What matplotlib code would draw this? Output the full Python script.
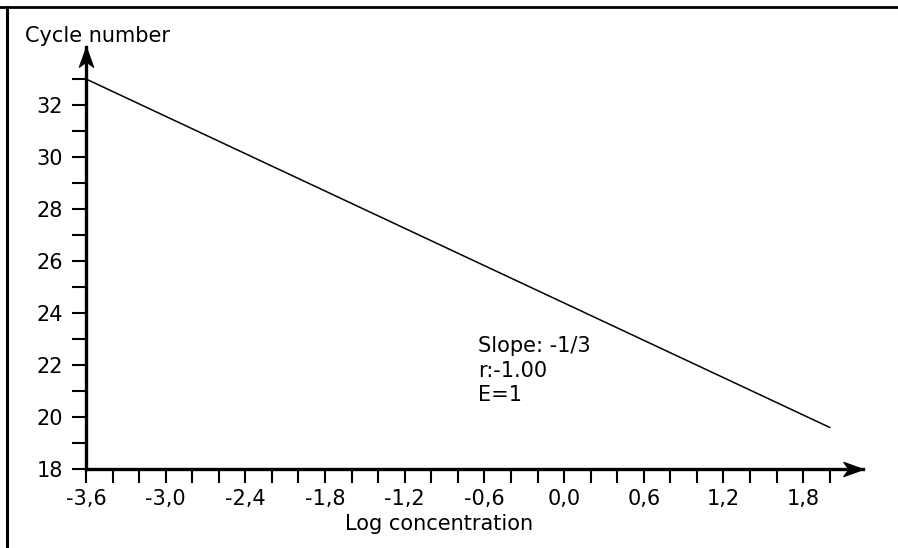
import numpy as np
import matplotlib
matplotlib.use("Agg")
import matplotlib.pyplot as plt
from matplotlib.lines import Line2D
from matplotlib.path import Path
from matplotlib.ticker import FixedLocator, FuncFormatter

# data
log_conc = [-3.6, 2.0]
cycles = [33.0, 19.6]
x_major = [-3.6, -3.0, -2.4, -1.8, -1.2, -0.6, 0.0, 0.6, 1.2, 1.8]
y_major = [18, 20, 22, 24, 26, 28, 30, 32]
stats = ["Slope: -1/3", "r:-1.00", "E=1"]

W, H = 898, 548
fig = plt.figure(figsize=(W / 100, H / 100), dpi=100)

# axes placed in pixels: x=-3.6 at px 86, y=18 at px 469
x0, y0 = 86, 469
px_x = 132.8   # pixels per x unit
px_y = 26.0    # pixels per y unit
xmax = -3.6 + (863 - x0) / px_x
ymax = 18 + (y0 - 47) / px_y
ax_w = 863 - x0
ax_h = y0 - 47
ax = fig.add_axes([x0 / W, 1 - y0 / H, ax_w / W, ax_h / H])
ax.set_xlim(-3.6, xmax)
ax.set_ylim(18, ymax)
ax.patch.set_visible(False)

ax.plot(log_conc, cycles, color="black", lw=1.1)

for s in ["top", "right"]:
    ax.spines[s].set_visible(False)
for s in ["left", "bottom"]:
    ax.spines[s].set_linewidth(2.4)

# stealth style arrow heads at the axis ends
verts = [(1.0, 0.0), (-0.8, 0.65), (-0.3, 0.0), (-0.8, -0.65), (1.0, 0.0)]
codes = [Path.MOVETO, Path.LINETO, Path.LINETO, Path.LINETO, Path.CLOSEPOLY]
arrow_r = Path(verts, codes)
arrow_u = Path([(y, x) for x, y in verts], codes)
msize = 15.5
half = msize * 100 / 72 / 2
ax.plot([1.0 - half / ax_w], [0], marker=arrow_r, markersize=msize, color="black",
        transform=ax.transAxes, clip_on=False)
ax.plot([0], [1.0 - half / ax_h], marker=arrow_u, markersize=msize, color="black",
        transform=ax.transAxes, clip_on=False)

x_minor = np.round(np.arange(-3.6, 2.01, 0.2), 1)
ax.xaxis.set_major_locator(FixedLocator(x_major))
ax.xaxis.set_minor_locator(FixedLocator([v for v in x_minor if v not in x_major]))
ax.yaxis.set_major_locator(FixedLocator(y_major))
ax.yaxis.set_minor_locator(FixedLocator([v for v in range(19, 34) if v not in y_major]))
ax.xaxis.set_major_formatter(FuncFormatter(lambda v, p: f"{v:.1f}".replace(".", ",")))
ax.tick_params(which="both", direction="out", length=10, width=1.5, labelsize=15)
ax.tick_params(axis="x", which="both", pad=4.5)
ax.tick_params(axis="y", which="both", pad=6.5)

ax.text(-0.65, 23.1, "\n".join(stats), fontsize=15, va="top", ha="left", linespacing=1.27)

fig.text(25 / W, 1 - 42 / H, "Cycle number", fontsize=15, va="baseline", ha="left")
fig.text(439 / W, 1 - 530 / H, "Log concentration", fontsize=15, va="baseline", ha="center")

# partial frame of the original picture
fig.add_artist(Line2D([0, 1], [1 - 7 / H, 1 - 7 / H], color="black", lw=2.0,
                      transform=fig.transFigure))
fig.add_artist(Line2D([7 / W, 7 / W], [0, 1 - 7 / H], color="black", lw=2.2,
                      transform=fig.transFigure))

fig.savefig("out.png", dpi=100)
